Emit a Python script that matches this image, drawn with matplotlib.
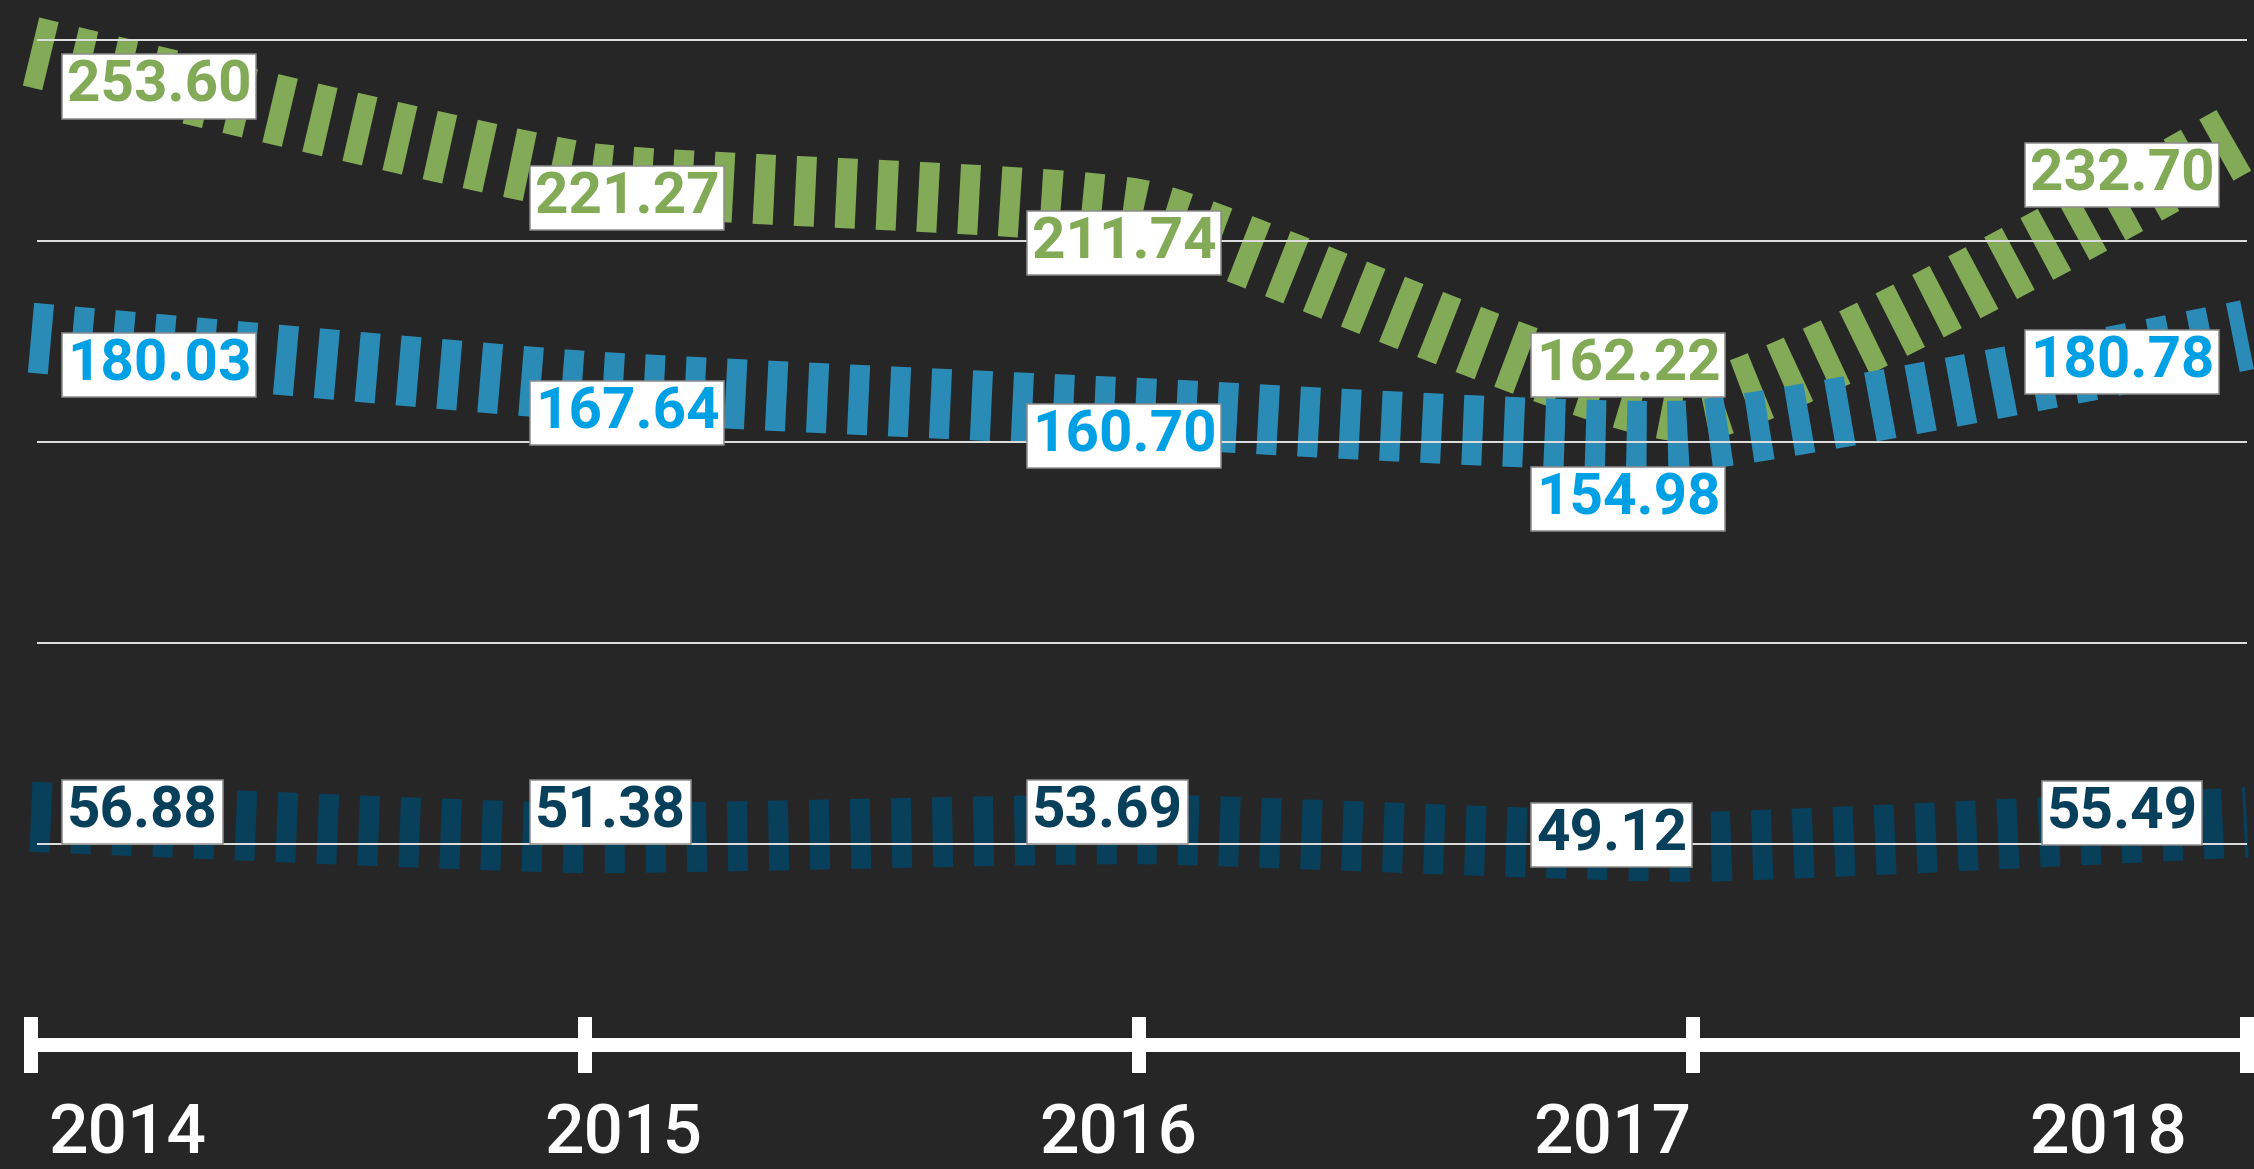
import numpy as np
import matplotlib
matplotlib.use('Agg')
import matplotlib.pyplot as plt
from matplotlib.path import Path
from matplotlib.patches import PathPatch

# ---------------- data ----------------
years = ['2014', '2015', '2016', '2017', '2018']
green_vals = [253.60, 221.27, 211.74, 162.22, 232.70]
blue_vals = [180.03, 167.64, 160.70, 154.98, 180.78]
navy_vals = [56.88, 51.38, 53.69, 49.12, 55.49]
grid_vals = [50, 100, 150, 200, 250]

# ---------------- style / layout ----------------
BG = '#262626'
GREEN = '#82AA57'
BLUE_LINE = '#2A8BB6'
BLUE_TEXT = '#00A0E4'
NAVY = '#083F5B'
DPI = 100
PX = 72.0 / DPI  # points per pixel

plt.rcParams['lines.scale_dashes'] = False

# label offsets (pixels) from each data point: (dx, dy_down)
green_off = [(36, 35), (-50, 21), (-107, 29), (-157, -42), (-125, 42)]
blue_off = [(36, 27), (-50, 27), (-107, 23), (-157, 64), (-125, 27)]
navy_off = [(36, -5), (-50, -26), (-107, -17), (-157, -12), (-125, -9)]
year_dx = [17, -41, -100, -160, -218]

fig = plt.figure(figsize=(22.54, 11.69), dpi=DPI, facecolor=BG)

# data axes (lines)
ax = fig.add_axes([0, 0, 1, 1])
ax.set_facecolor(BG)
x = np.arange(len(years))
ax.set_xlim(-31 / 554, 4 + 7 / 554)
ax.set_ylim((1038 - 1169) / 3.89, 1038 / 3.89)
ax.axis('off')

# grid / axis axes on top
gax = fig.add_axes([0, 0, 1, 1])
gax.patch.set_alpha(0)
gax.set_xlim(ax.get_xlim())
gax.set_ylim((1045 - 1169) / 4.02, 1045 / 4.02)
gax.axis('off')


def smooth_path(axes, xs, ys, smooth=0.15):
    pts = axes.transData.transform(np.column_stack([xs, ys]))
    n = len(pts)
    cb = pts.copy()
    ca = pts.copy()
    for i in range(1, n - 1):
        prev, cur, nxt = pts[i - 1], pts[i], pts[i + 1]
        v = nxt - prev
        d0 = np.hypot(*(cur - prev))
        d1 = np.hypot(*(nxt - cur))
        r = d1 / (d0 + d1)
        cb[i] = cur - v * smooth * (1 - r)
        ca[i] = cur + v * smooth * r
    verts = [pts[0]]
    codes = [Path.MOVETO]
    for i in range(1, n):
        verts += [ca[i - 1], cb[i], pts[i]]
        codes += [Path.CURVE4] * 3
    verts = axes.transData.inverted().transform(np.array(verts))
    return Path(verts, codes)


LW = 70 * PX
DASH = (0, (20 * PX, 21 * PX))
for vals, col, z in [(green_vals, GREEN, 2), (blue_vals, BLUE_LINE, 3), (navy_vals, NAVY, 4)]:
    p = smooth_path(ax, x, vals)
    patch = PathPatch(p, fill=False, edgecolor=col, linewidth=LW,
                      linestyle=DASH, capstyle='butt', zorder=z)
    ax.add_patch(patch)

# grid lines
gax.hlines(grid_vals, 0.01, 4, colors='#dcdcdc', linewidth=2 * PX, zorder=2)

# x axis line and ticks
gax.hlines(0, 0, 4, colors='white', linewidth=14 * PX, zorder=3)
gax.vlines(x, -28 / 4.02, 28 / 4.02, colors='white', linewidth=14 * PX, zorder=3)

# year labels
for i, yr in enumerate(years):
    gax.annotate(yr, xy=(x[i], 0), xytext=(year_dx[i], -108),
                 textcoords='offset pixels', ha='left', va='baseline',
                 color='white', fontsize=50, fontfamily='Roboto',
                 fontweight='medium', zorder=6)

# value labels
for vals, offs, tcol in [(green_vals, green_off, GREEN),
                         (blue_vals, blue_off, BLUE_TEXT),
                         (navy_vals, navy_off, NAVY)]:
    for i, v in enumerate(vals):
        dx, dy = offs[i]
        ha = 'center' if i == len(vals) - 1 else 'left'
        gax.annotate(f'{v:.2f}', xy=(x[i], v), xycoords=ax.transData,
                     xytext=(dx, -dy), textcoords='offset pixels',
                     ha=ha, va='center', color=tcol, fontsize=42,
                     fontfamily='Roboto', fontweight='bold', zorder=7,
                     bbox=dict(boxstyle='square,pad=0.08', facecolor='white',
                               edgecolor='#8c8c8c', linewidth=1.5 * PX))

fig.savefig('out.png', dpi=DPI, facecolor=BG)
